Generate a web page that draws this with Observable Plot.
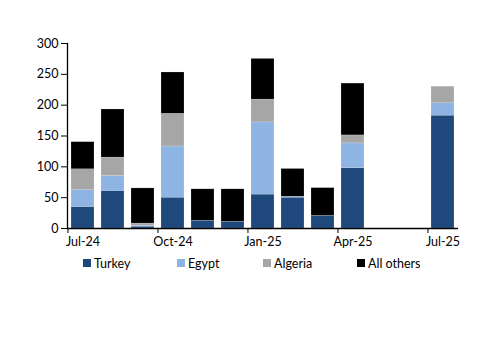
<!DOCTYPE html>
<html>
<head>
<meta charset="utf-8">
<script src="https://cdn.jsdelivr.net/npm/d3@7"></script>
<script src="https://cdn.jsdelivr.net/npm/@observablehq/plot@0.6"></script>
<style>
  html, body { margin: 0; padding: 0; background: #fff; }
  #wrap { position: relative; width: 500px; height: 353px; font-family: Lato, "DejaVu Sans", sans-serif; }
  #legend { position: absolute; top: 254px; left: 0; width: 500px; height: 18px; font-size: 12.5px; color: #000; }
  .item { position: absolute; top: 0; display: flex; align-items: center; height: 18px; }
  .sw { width: 8px; height: 8px; margin-right: 3px; }
</style>
</head>
<body>
<div id="wrap"><div id="chart"></div><div id="legend"></div></div>
<script>
const months = ["Jul-24","Aug-24","Sep-24","Oct-24","Nov-24","Dec-24","Jan-25","Feb-25","Mar-25","Apr-25","May-25","Jun-25","Jul-25"];
const series = ["Turkey","Egypt","Algeria","All others"];
const colors = ["#1f497d","#8db4e2","#a6a6a6","#000000"];
const turkey  = [35, 61, 3,   50, 12.5, 11,   55, 50,  20.5, 98, null, null, 183];
const egypt   = [27, 24, 1.5, 83, 0,    0,    117, 1.5, 0,   40, null, null, 20];
const algeria = [34, 30, 3.5, 53, 0,    0,    37, 0,   0,    13, null, null, 27];
const others  = [44, 78, 57,  67, 51,   52.5, 66, 45,  45,   84, null, null, 0];
const yTicks = [0, 50, 100, 150, 200, 250, 300];
const xLabels = ["Jul-24","Oct-24","Jan-25","Apr-25","Jul-25"];
const legendX = [83, 177, 263, 357];

const values = [turkey, egypt, algeria, others];
const data = [];
months.forEach((m, i) => {
  series.forEach((s, j) => {
    const v = values[j][i];
    if (v != null && v > 0) data.push({month: m, series: s, value: v});
  });
});

const W = 500, H = 255, ML = 67, MR = 42;
const step = (W - ML - MR) / months.length;

const chart = Plot.plot({
  width: W, height: H,
  marginLeft: ML, marginRight: MR, marginTop: 43, marginBottom: 27,
  style: {fontFamily: "Lato, 'DejaVu Sans', sans-serif", fontSize: "12.5px", color: "#000", background: "#fff"},
  x: {domain: months, paddingInner: 0.23, paddingOuter: 0.115},
  y: {domain: [0, 300]},
  color: {domain: series, range: colors},
  marks: [
    Plot.barY(data, {x: "month", y: "value", fill: "series", order: series, stroke: "#ffffff", strokeOpacity: 0.35, strokeWidth: 0.5}),
    Plot.axisY(yTicks, {tickSize: 6, tickPadding: 3, label: null, stroke: "#000", strokeWidth: 1, fontSize: 12.5}),
    Plot.frame({anchor: "left", stroke: "#000", strokeWidth: 1.3}),
    Plot.ruleY([0], {stroke: "#000", strokeWidth: 1.3}),
    Plot.axisX(xLabels, {tickSize: 0, tickPadding: 9, label: null, fontSize: 12.5}),
    Plot.axisX(xLabels, {tickSize: 5, tickFormat: () => "", dx: -step / 2, label: null, stroke: "#000", strokeWidth: 1})
  ]
});
document.getElementById("chart").appendChild(chart);

const legend = document.getElementById("legend");
series.forEach((s, i) => {
  const it = document.createElement("div");
  it.className = "item";
  it.style.left = legendX[i] + "px";
  const sw = document.createElement("span");
  sw.className = "sw";
  sw.style.background = colors[i];
  const t = document.createElement("span");
  t.textContent = s;
  it.appendChild(sw); it.appendChild(t);
  legend.appendChild(it);
});
</script>
</body>
</html>
